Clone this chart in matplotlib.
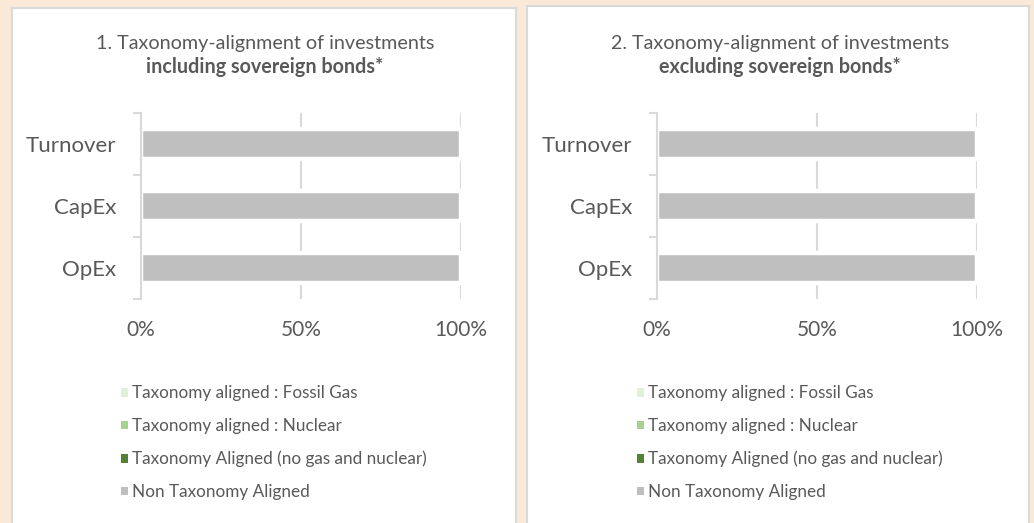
import numpy as np
import matplotlib.pyplot as plt
from matplotlib.patches import Rectangle, Patch

plt.rcParams['font.family'] = ['Lato', 'DejaVu Sans']

# data (percent of investments)
categories = ['Turnover', 'CapEx', 'OpEx']
series_names = ['Taxonomy aligned : Fossil Gas',
                'Taxonomy aligned : Nuclear',
                'Taxonomy Aligned (no gas and nuclear)',
                'Non Taxonomy Aligned']
series_colors = ['#E2F0D9', '#A9D18E', '#548235', '#BFBFBF']

incl_fossil = [0, 0, 0]
incl_nuclear = [0, 0, 0]
incl_aligned = [0, 0, 0]
incl_non = [100, 100, 100]

excl_fossil = [0, 0, 0]
excl_nuclear = [0, 0, 0]
excl_aligned = [0, 0, 0]
excl_non = [100, 100, 100]

xticks = [0, 50, 100]
xticklabels = ['0%', '50%', '100%']

title_top = ['1. Taxonomy-alignment of investments',
             '2. Taxonomy-alignment of investments']
title_bold = ['including sovereign bonds*', 'excluding sovereign bonds*']

text_col = '#595959'
grid_col = '#D9D9D9'

W, H = 1034, 523
fig = plt.figure(figsize=(W / 100, H / 100), dpi=100)
fig.patch.set_facecolor('#FBE9D7')

# white panel boxes
fig.patches.append(Rectangle((12 / W, -0.05), 504 / W, (H - 8) / H + 0.05,
                             transform=fig.transFigure, facecolor='white',
                             edgecolor='#D9D9D9', linewidth=1.5, zorder=-5))
fig.patches.append(Rectangle((527 / W, -0.05), 502 / W, (H - 6) / H + 0.05,
                             transform=fig.transFigure, facecolor='white',
                             edgecolor='#D9D9D9', linewidth=1.5, zorder=-5))

panels = [
    (141, [incl_aligned, incl_nuclear, incl_fossil, incl_non], 265, 120),
    (657, [excl_aligned, excl_nuclear, excl_fossil, excl_non], 780, 636),
]
# map series stack order back to legend order
stack_idx = [2, 1, 0, 3]

for i, (x0, stacks, tx, lx) in enumerate(panels):
    ax = fig.add_axes([x0 / W, 1 - 299 / H, 320 / W, 186 / H])
    ax.set_zorder(2)
    ax.set_facecolor('none')
    y = np.arange(len(categories))
    left = np.zeros(len(categories))
    for k, vals in enumerate(stacks):
        s = stack_idx[k]
        ax.barh(y, vals, left=left, height=0.49, color=series_colors[s],
                edgecolor='white', linewidth=3.2, zorder=2)
        left = left + np.array(vals)
    ax.set_xlim(0, 100)
    ax.set_ylim(len(categories) - 0.5, -0.5)
    ax.set_yticks(y)
    ax.set_yticklabels(categories)
    ax.set_yticks(np.arange(len(categories) + 1) - 0.5, minor=True)
    ax.tick_params(axis='y', which='major', length=0, pad=18, labelsize=16,
                   labelcolor=text_col)
    ax.tick_params(axis='y', which='minor', length=6, width=1.5, color=grid_col)
    ax.set_xticks(xticks)
    ax.set_xticklabels(xticklabels)
    ax.tick_params(axis='x', length=0, pad=15, labelsize=15, labelcolor=text_col)
    ax.xaxis.grid(True, color=grid_col, linewidth=1.5, zorder=0)
    ax.set_axisbelow(True)
    for sp in ['top', 'right', 'bottom']:
        ax.spines[sp].set_visible(False)
    ax.spines['left'].set_color(grid_col)
    ax.spines['left'].set_linewidth(1.5)

    fig.text(tx / W, 1 - 43 / H, title_top[i], ha='center', va='center',
             fontsize=14.2, color=text_col)
    fig.text(tx / W, 1 - 67 / H, title_bold[i], ha='center', va='center',
             fontsize=14.2, color=text_col, fontweight='bold')

    handles = [Patch(facecolor=c, edgecolor='none') for c in series_colors]
    leg = fig.legend(handles, series_names, loc='upper left',
                     bbox_to_anchor=((lx - 14) / W, 1 - 370 / H),
                     bbox_transform=fig.transFigure, frameon=False,
                     fontsize=12.3, handlelength=0.4, handleheight=0.4,
                     handletextpad=0.25, labelspacing=0.98)
    for t in leg.get_texts():
        t.set_color(text_col)

fig.savefig('out.png', dpi=100, facecolor=fig.get_facecolor())
